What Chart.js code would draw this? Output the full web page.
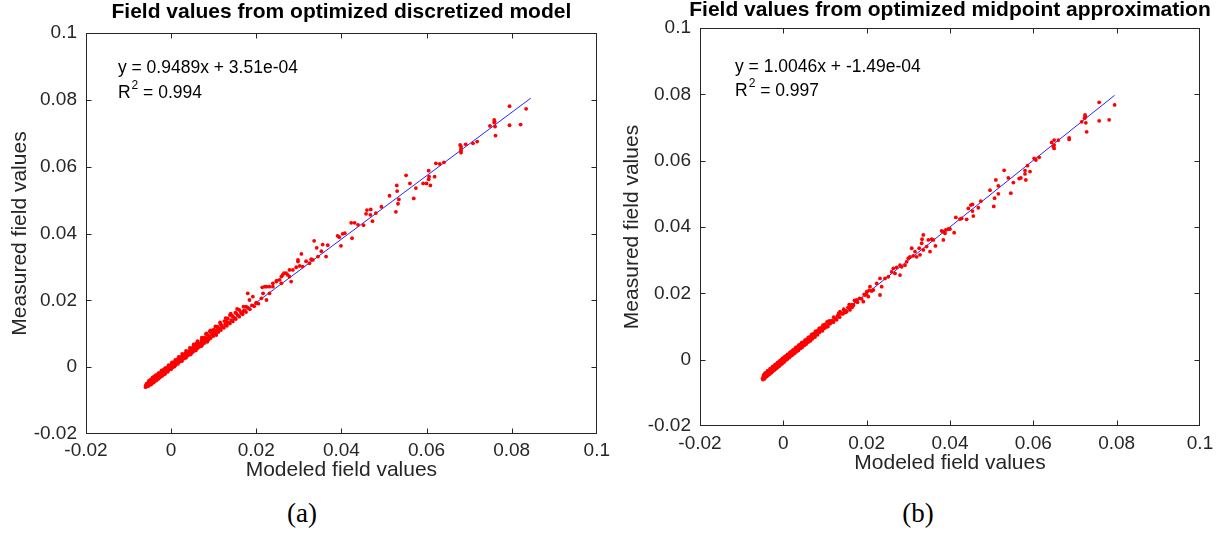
<!DOCTYPE html>
<html>
<head>
<meta charset="utf-8">
<script src="https://cdn.jsdelivr.net/npm/chart.js@4.4.1/dist/chart.umd.min.js"></script>
<style>
body { margin: 0; background: #fff; width: 1227px; height: 535px; position: relative; overflow: hidden; }
#chartA { position: absolute; left: 0; top: 0; }
#chartB { position: absolute; left: 615px; top: 0; }
.caption { position: absolute; top: 498px; width: 100px; text-align: center; font-family: "Liberation Serif", serif; font-size: 27px; color: #000; }
</style>
</head>
<body>
<canvas id="chartA" width="615" height="490"></canvas>
<canvas id="chartB" width="612" height="490"></canvas>
<div class="caption" style="left:252px">(a)</div>
<div class="caption" style="left:868px">(b)</div>
<script>
// axis ticks (same on both axes of both plots)
var tickValues = [-0.02, 0, 0.02, 0.04, 0.06, 0.08, 0.1];
var tickLabels = ['-0.02', '0', '0.02', '0.04', '0.06', '0.08', '0.1'];

// (a) discretized model: [modeled, measured]
var pairsA = [
  [-0.0060,-0.0055],[-0.0058,-0.0050],[-0.0055,-0.0053],[-0.0053,-0.0046],[-0.0052,-0.0051],
  [-0.0050,-0.0044],[-0.0049,-0.0049],[-0.0047,-0.0041],[-0.0046,-0.0046],[-0.0045,-0.0038],
  [-0.0043,-0.0043],[-0.0042,-0.0036],[-0.0040,-0.0040],[-0.0039,-0.0033],[-0.0037,-0.0038],
  [-0.0036,-0.0030],[-0.0034,-0.0034],[-0.0033,-0.0027],[-0.0031,-0.0031],[-0.0030,-0.0025],
  [-0.0028,-0.0029],[-0.0027,-0.0022],[-0.0025,-0.0026],[-0.0024,-0.0019],[-0.0022,-0.0022],
  [-0.0021,-0.0016],[-0.0019,-0.0020],[-0.0018,-0.0013],[-0.0016,-0.0017],[-0.0015,-0.0011],
  [-0.0013,-0.0014],[-0.0012,-0.0008],[-0.0010,-0.0011],[-0.0009,-0.0005],[-0.0007,-0.0008],
  [-0.0006,-0.0002],[-0.0004,-0.0005],[-0.0003,0.0001],[-0.0001,-0.0002],[0.0000,0.0004],
  [0.0002,0.0001],[0.0003,0.0007],[0.0005,0.0004],[0.0007,0.0010],[0.0008,0.0006],
  [0.0010,0.0013],[0.0012,0.0010],[0.0013,0.0016],[0.0015,0.0013],[0.0017,0.0019],
  [0.0019,0.0016],[0.0020,0.0023],[0.0022,0.0019],[0.0024,0.0027],[0.0026,0.0022],
  [0.0028,0.0030],[0.0030,0.0026],[0.0032,0.0034],[0.0034,0.0030],[0.0036,0.0038],
  [0.0038,0.0034],[0.0040,0.0042],[0.0042,0.0037],[0.0044,0.0046],[0.0046,0.0041],
  [0.0048,0.0050],[0.0050,0.0045],[0.0052,0.0054],[0.0054,0.0049],[0.0056,0.0058],
  [0.0058,0.0053],[0.0061,0.0062],[0.0063,0.0057],[0.0065,0.0067],[0.0068,0.0062],
  [0.0070,0.0071],[0.0073,0.0066],[0.0075,0.0076],[0.0078,0.0072],[0.0080,0.0082],
  [0.0083,0.0077],[0.0085,0.0087],[0.0088,0.0082],[0.0090,0.0092],[0.0093,0.0087],
  [0.0096,0.0098],[0.0099,0.0093],[0.0102,0.0104],[0.0105,0.0099],[0.0108,0.0110],
  [0.0111,0.0105],[0.0114,0.0116],[0.0117,0.0111],[0.0120,0.0121],[0.0124,0.0118],
  [0.0127,0.0128],[0.0131,0.0124],[0.0134,0.0134],[0.0138,0.0131],[0.0141,0.0141],
  [0.0145,0.0137],[0.0148,0.0148],[0.0152,0.0144],[0.0156,0.0156],[0.0160,0.0151],
  [0.0164,0.0163],[0.0168,0.0158],[0.0172,0.0170],[0.0176,0.0165],[0.0180,0.0178],
  [0.0185,0.0173],[0.0190,0.0185],[0.0195,0.0182],[0.0200,0.0193],[0.0205,0.0190],
  [-0.0055,-0.0047],[-0.0048,-0.0037],[-0.0041,-0.0029],[-0.0035,-0.0024],[-0.0029,-0.0018],
  [-0.0023,-0.0012],[-0.0017,-0.0007],[-0.0011,-0.0002],[-0.0005,0.0004],[0.0001,0.0010],
  [0.0006,0.0015],[0.0011,0.0020],[0.0016,0.0025],[0.0021,0.0030],[0.0027,0.0036],
  [0.0033,0.0041],[0.0039,0.0047],[0.0045,0.0053],[0.0051,0.0059],[0.0057,0.0065],
  [0.0064,0.0072],[0.0071,0.0080],[0.0079,0.0089],[0.0086,0.0096],[0.0094,0.0105],
  [0.0101,0.0112],[0.0109,0.0121],[0.0116,0.0129],[0.0125,0.0138],[0.0133,0.0146],
  [0.0143,0.0154],[0.0151,0.0163],[0.0160,0.0171],[0.0170,0.0181],
  [-0.0052,-0.0040],[-0.0044,-0.0031],[-0.0037,-0.0025],[-0.0030,-0.0019],[-0.0022,-0.0010],
  [-0.0014,-0.0003],[-0.0006,0.0006],[0.0002,0.0014],[0.0010,0.0022],[0.0018,0.0031],
  [0.0026,0.0040],[0.0035,0.0049],[0.0044,0.0058],[0.0053,0.0068],[0.0062,0.0078],
  [0.0072,0.0088],[0.0082,0.0099],[0.0092,0.0110],[0.0104,0.0122],[0.0115,0.0134],
  [0.0128,0.0147],[0.0140,0.0160],[0.0155,0.0174],
  [-0.0057,-0.0057],[-0.0050,-0.0052],[-0.0044,-0.0047],[-0.0038,-0.0041],[-0.0032,-0.0036],
  [-0.0026,-0.0030],[-0.0020,-0.0024],[-0.0014,-0.0018],[-0.0008,-0.0012],[-0.0002,-0.0006],
  [0.0004,0.0000],[0.0010,0.0006],
  [-0.0060,-0.0060],[-0.0054,-0.0057],[-0.0047,-0.0052],[-0.0041,-0.0046],[-0.0035,-0.0040],
  [-0.0029,-0.0034],[-0.0022,-0.0027],[-0.0015,-0.0021],[-0.0008,-0.0014],[0.0000,-0.0006],
  [0.0008,0.0002],[0.0016,0.0010],[0.0025,0.0018],[0.0035,0.0028],[0.0046,0.0038],
  [0.0058,0.0050],[0.0071,0.0063],[0.0085,0.0076],
  [0.0298,0.0316],[0.0278,0.0271],[0.0270,0.0281],[0.0262,0.0276],[0.0282,0.0256],
  [0.0259,0.0251],[0.0247,0.0256],[0.0239,0.0241],[0.0231,0.0221],[0.0220,0.0241],
  [0.0216,0.0221],[0.0224,0.0201],[0.0212,0.0206],[0.0200,0.0191],[0.0192,0.0211],
  [0.0184,0.0201],[0.0180,0.0221],[0.0176,0.0181],[0.0169,0.0167],[0.0153,0.0161],
  [0.0145,0.0151],[0.0138,0.0156],[0.0130,0.0136],[0.0118,0.0126],[0.0110,0.0116],
  [0.0098,0.0111],[0.0091,0.0106],[0.0083,0.0101],[0.0106,0.0096],[0.0075,0.0086],
  [0.0059,0.0071],
  [0.0403,0.0399],[0.0408,0.0401],[0.0391,0.0393],[0.0395,0.0389],[0.0399,0.0363],
  [0.0368,0.0365],[0.0356,0.0367],[0.0336,0.0378],[0.0342,0.0357],[0.0353,0.0347],
  [0.0364,0.0331],[0.0345,0.0331],[0.0333,0.0321],[0.0306,0.0339],[0.0298,0.0321],
  [0.0317,0.0317],[0.0329,0.0323],[0.0325,0.0311],[0.0309,0.0301],[0.0302,0.0303],
  [0.0294,0.0299],[0.0286,0.0291],[0.0278,0.0291],[0.0274,0.0276],[0.0265,0.0281],
  [0.0259,0.0271],[0.0255,0.0261],[0.0248,0.0259],[0.0239,0.0251],[0.0231,0.0241],
  [0.0224,0.0241],[0.0214,0.0239],
  [0.0795,0.0781],[0.0834,0.0773],[0.0821,0.0726],[0.0795,0.0724],[0.0759,0.0740],
  [0.0760,0.0735],[0.0759,0.0732],[0.0749,0.0722],[0.0761,0.0720],[0.0762,0.0693],
  [0.0679,0.0665],[0.0681,0.0660],[0.0681,0.0653],[0.0681,0.0648],[0.0681,0.0642],
  [0.0692,0.0667],[0.0709,0.0670],[0.0719,0.0675],[0.0622,0.0610],[0.0631,0.0608],
  [0.0641,0.0613],[0.0605,0.0588],[0.0606,0.0570],[0.0605,0.0562],[0.0609,0.0544],
  [0.0600,0.0550],[0.0592,0.0550],[0.0619,0.0570],[0.0552,0.0574],[0.0561,0.0550],
  [0.0575,0.0536],[0.0570,0.0505],[0.0530,0.0544],[0.0531,0.0527],[0.0535,0.0502],
  [0.0533,0.0489],[0.0528,0.0465],[0.0513,0.0513],[0.0494,0.0480],[0.0481,0.0461],
  [0.0469,0.0472],[0.0460,0.0470],[0.0458,0.0459],[0.0468,0.0456],[0.0473,0.0437],
  [0.0452,0.0425],[0.0439,0.0426],[0.0431,0.0432],[0.0423,0.0432],[0.0425,0.0386]
];

// (b) midpoint approximation: [modeled, measured]
var pairsB = [
  [-0.0050,-0.0057],[-0.0048,-0.0051],[-0.0046,-0.0054],[-0.0045,-0.0047],[-0.0043,-0.0050],
  [-0.0041,-0.0043],[-0.0040,-0.0046],[-0.0038,-0.0040],[-0.0036,-0.0042],[-0.0035,-0.0036],
  [-0.0033,-0.0038],[-0.0031,-0.0032],[-0.0030,-0.0034],[-0.0028,-0.0028],[-0.0026,-0.0030],
  [-0.0025,-0.0024],[-0.0023,-0.0026],[-0.0021,-0.0020],[-0.0020,-0.0023],[-0.0018,-0.0017],
  [-0.0016,-0.0019],[-0.0015,-0.0013],[-0.0013,-0.0016],[-0.0011,-0.0010],[-0.0010,-0.0012],
  [-0.0008,-0.0007],[-0.0006,-0.0009],[-0.0005,-0.0003],[-0.0003,-0.0006],[-0.0001,0.0000],
  [0.0000,-0.0003],[0.0002,0.0003],[0.0004,0.0001],[0.0005,0.0006],[0.0007,0.0004],
  [0.0009,0.0010],[0.0011,0.0007],[0.0013,0.0014],[0.0015,0.0011],[0.0017,0.0018],
  [0.0019,0.0015],[0.0021,0.0022],[0.0023,0.0019],[0.0025,0.0026],[0.0027,0.0023],
  [0.0029,0.0030],[0.0031,0.0027],[0.0033,0.0034],[0.0035,0.0031],[0.0037,0.0038],
  [0.0040,0.0036],[0.0042,0.0043],[0.0044,0.0040],[0.0047,0.0048],[0.0049,0.0045],
  [0.0052,0.0053],[0.0054,0.0050],[0.0057,0.0058],[0.0059,0.0055],[0.0062,0.0063],
  [0.0064,0.0060],[0.0067,0.0068],[0.0069,0.0065],[0.0072,0.0074],[0.0075,0.0071],
  [0.0078,0.0080],[0.0081,0.0077],[0.0084,0.0086],[0.0087,0.0083],[0.0090,0.0092],
  [0.0093,0.0089],[0.0096,0.0098],[0.0099,0.0095],[0.0102,0.0104],[0.0105,0.0101],
  [0.0109,0.0111],[0.0112,0.0108],[0.0116,0.0118],[0.0119,0.0115],[0.0123,0.0125],
  [0.0126,0.0122],[0.0130,0.0132],[0.0134,0.0130],[0.0138,0.0140],[0.0142,0.0138],
  [0.0146,0.0148],[0.0150,0.0146],[0.0155,0.0157],[0.0159,0.0155],[0.0164,0.0166],
  [0.0168,0.0164],[0.0173,0.0176],[0.0178,0.0173],[0.0183,0.0185],[0.0188,0.0183],
  [0.0194,0.0197],[0.0200,0.0196],[0.0206,0.0209],[0.0212,0.0207],
  [-0.0047,-0.0046],[-0.0041,-0.0039],[-0.0035,-0.0033],[-0.0029,-0.0026],[-0.0023,-0.0020],
  [-0.0017,-0.0014],[-0.0011,-0.0007],[-0.0005,-0.0001],[0.0001,0.0005],[0.0007,0.0011],
  [0.0013,0.0017],[0.0019,0.0024],[0.0026,0.0031],[0.0033,0.0038],[0.0040,0.0045],
  [0.0048,0.0053],[0.0056,0.0061],[0.0064,0.0069],[0.0072,0.0078],[0.0081,0.0087],
  [0.0090,0.0096],[0.0100,0.0106],[0.0110,0.0117],[0.0121,0.0128],[0.0133,0.0140],
  [0.0145,0.0152],[0.0158,0.0166],[0.0171,0.0179],
  [-0.0044,-0.0041],[-0.0038,-0.0034],[-0.0032,-0.0028],[-0.0026,-0.0021],[-0.0020,-0.0015],
  [-0.0014,-0.0009],[-0.0008,-0.0003],[-0.0002,0.0004],[0.0004,0.0010],[0.0010,0.0016],
  [0.0016,0.0022],[0.0023,0.0029],[0.0030,0.0037],[0.0037,0.0044],[0.0044,0.0051],
  [0.0052,0.0059],[0.0060,0.0067],[0.0068,0.0076],[0.0077,0.0085],[0.0086,0.0094],
  [0.0095,0.0104],[0.0105,0.0114],
  [-0.0049,-0.0060],[-0.0044,-0.0055],[-0.0038,-0.0048],[-0.0032,-0.0042],[-0.0026,-0.0035],
  [-0.0020,-0.0029],[-0.0014,-0.0023],[-0.0008,-0.0016],[-0.0002,-0.0010],[0.0004,-0.0003],
  [0.0010,0.0003],[0.0017,0.0010],[0.0024,0.0017],[0.0032,0.0025],[0.0041,0.0034],
  [0.0050,0.0043],[0.0060,0.0053],[0.0070,0.0063],[0.0082,0.0075],[0.0094,0.0087],
  [0.0107,0.0100],[0.0120,0.0113],[0.0135,0.0128],[0.0150,0.0143],[0.0165,0.0158],
  [-0.0046,-0.0058],[-0.0040,-0.0051],[-0.0034,-0.0045],[-0.0028,-0.0039],[-0.0022,-0.0032],
  [-0.0016,-0.0026],[-0.0010,-0.0020],[-0.0004,-0.0013],[0.0002,-0.0007],[0.0008,0.0000],
  [0.0014,0.0006],[0.0021,0.0013],[0.0028,0.0020],[0.0036,0.0028],[0.0045,0.0037],
  [0.0055,0.0047],[0.0065,0.0057],[0.0076,0.0068],
  [0.0236,0.0220],[0.0232,0.0195],[0.0224,0.0230],[0.0216,0.0210],[0.0208,0.0220],
  [0.0200,0.0205],[0.0196,0.0195],[0.0204,0.0190],[0.0192,0.0175],[0.0176,0.0180],
  [0.0168,0.0165],[0.0160,0.0150],[0.0152,0.0145],[0.0144,0.0140],[0.0136,0.0145],
  [0.0128,0.0120],[0.0120,0.0115],[0.0112,0.0110],[0.0104,0.0099],
  [0.0396,0.0394],[0.0390,0.0391],[0.0384,0.0386],[0.0388,0.0381],[0.0384,0.0361],
  [0.0380,0.0388],[0.0336,0.0376],[0.0333,0.0363],[0.0356,0.0363],[0.0348,0.0361],
  [0.0360,0.0361],[0.0344,0.0341],[0.0365,0.0343],[0.0352,0.0326],[0.0308,0.0336],
  [0.0316,0.0326],[0.0326,0.0336],[0.0332,0.0351],[0.0336,0.0331],[0.0328,0.0316],
  [0.0320,0.0310],[0.0312,0.0313],[0.0304,0.0310],[0.0296,0.0295],[0.0300,0.0306],
  [0.0292,0.0285],[0.0284,0.0280],[0.0280,0.0285],[0.0272,0.0278],[0.0264,0.0275],
  [0.0260,0.0265],[0.0268,0.0260],[0.0280,0.0255],[0.0252,0.0250],[0.0244,0.0245],
  [0.0232,0.0245],
  [0.0758,0.0776],[0.0795,0.0768],[0.0782,0.0723],[0.0758,0.0720],[0.0724,0.0738],
  [0.0725,0.0733],[0.0723,0.0728],[0.0716,0.0717],[0.0726,0.0714],[0.0728,0.0687],
  [0.0644,0.0655],[0.0650,0.0662],[0.0650,0.0647],[0.0650,0.0637],[0.0648,0.0642],
  [0.0660,0.0662],[0.0686,0.0669],[0.0686,0.0664],[0.0602,0.0607],[0.0606,0.0602],
  [0.0614,0.0610],[0.0586,0.0585],[0.0580,0.0570],[0.0580,0.0560],[0.0592,0.0567],
  [0.0582,0.0542],[0.0570,0.0548],[0.0566,0.0546],[0.0552,0.0534],[0.0540,0.0548],
  [0.0530,0.0571],[0.0516,0.0524],[0.0510,0.0542],[0.0507,0.0487],[0.0516,0.0500],
  [0.0546,0.0502],[0.0496,0.0511],[0.0474,0.0478],[0.0468,0.0458],[0.0454,0.0468],
  [0.0450,0.0466],[0.0444,0.0456],[0.0454,0.0448],[0.0456,0.0433],[0.0440,0.0423],
  [0.0428,0.0426],[0.0414,0.0429],[0.0424,0.0424],[0.0400,0.0394],[0.0410,0.0383],
  [0.0505,0.0462]
];

// least squares lines, end points over the data range
var fitXA = [-0.0062, 0.0845];
var fitYA = [-0.0055, 0.0805];
var fitXB = [-0.0050, 0.0795];
var fitYB = [-0.0052, 0.0797];

var textColor = '#262626';
var sansFont = '"Liberation Sans", Arial, Helvetica, sans-serif';

// MATLAB style box with inward ticks on all four sides
var boxPlugin = {
    id: 'matlabBox',
    afterDatasetsDraw: function(chart) {
        var ctx = chart.ctx;
        var area = chart.chartArea;
        var xs = chart.scales.x;
        var ys = chart.scales.y;
        var L = Math.round(area.left) + 0.5;
        var R = Math.round(area.right) - 0.5;
        var T = Math.round(area.top) + 0.5;
        var B = Math.round(area.bottom) - 0.5;
        ctx.save();
        ctx.strokeStyle = textColor;
        ctx.lineWidth = 1;
        ctx.strokeRect(L, T, R - L, B - T);
        ctx.beginPath();
        tickValues.forEach(function(v) {
            var px = Math.round(xs.getPixelForValue(v)) + 0.5;
            if (px > L + 2 && px < R - 2) {
                ctx.moveTo(px, B); ctx.lineTo(px, B - 5);
                ctx.moveTo(px, T); ctx.lineTo(px, T + 5);
            }
            var py = Math.round(ys.getPixelForValue(v)) + 0.5;
            if (py > T + 2 && py < B - 2) {
                ctx.moveTo(L, py); ctx.lineTo(L + 5, py);
                ctx.moveTo(R, py); ctx.lineTo(R - 5, py);
            }
        });
        ctx.stroke();
        ctx.restore();
    }
};

// title above the box and the fit equation inside it
var textPlugin = {
    id: 'fitText',
    afterDraw: function(chart, args, opts) {
        var ctx = chart.ctx;
        var area = chart.chartArea;
        var xs = chart.scales.x;
        var ys = chart.scales.y;
        ctx.save();
        ctx.fillStyle = '#000';
        ctx.textBaseline = 'middle';
        ctx.textAlign = 'center';
        ctx.font = 'bold 21px ' + sansFont;
        ctx.fillText(opts.title, (area.left + area.right) / 2, opts.titleY);

        ctx.textAlign = 'left';
        ctx.font = '17.5px ' + sansFont;
        var tx = xs.getPixelForValue(opts.at[0]);
        var ty1 = ys.getPixelForValue(opts.at[1]);
        var ty2 = ys.getPixelForValue(opts.at[2]);
        ctx.fillText(opts.equation, tx, ty1);
        ctx.fillText('R', tx, ty2);
        var w = ctx.measureText('R').width;
        ctx.font = '12px ' + sansFont;
        ctx.fillText('2', tx + w + 1, ty2 - 7);
        var w2 = ctx.measureText('2').width;
        ctx.font = '17.5px ' + sansFont;
        ctx.fillText(' = ' + opts.r2, tx + w + w2 + 1, ty2);
        ctx.restore();
    }
};

function makeChart(canvasId, pairs, fitX, fitY, setup) {
    var points = pairs.map(function(p) { return { x: p[0], y: p[1] }; });
    var line = fitX.map(function(x, i) { return { x: x, y: fitY[i] }; });

    function axis(titleText, pad, titlePad) {
        return {
            type: 'linear',
            min: -0.02,
            max: 0.1,
            afterBuildTicks: function(scale) {
                scale.ticks = tickValues.map(function(v) { return { value: v }; });
            },
            ticks: {
                autoSkip: false,
                maxRotation: 0,
                color: textColor,
                font: { family: sansFont, size: 19 },
                padding: pad,
                callback: function(value, index) { return tickLabels[index]; }
            },
            grid: { display: false, drawTicks: false },
            border: { display: false },
            title: {
                display: true,
                text: titleText,
                color: textColor,
                font: { family: sansFont, size: 21 },
                padding: titlePad
            }
        };
    }

    var xAxis = axis('Modeled field values', setup.xTickPad, setup.xTitlePad);
    xAxis.afterFit = function(scale) { scale.height = setup.xHeight; };
    var yAxis = axis('Measured field values', 9, setup.yTitlePad);
    yAxis.afterFit = function(scale) { scale.width = setup.yWidth; };

    return new Chart(document.getElementById(canvasId), {
        type: 'scatter',
        data: {
            datasets: [{
                label: 'field values',
                data: points,
                backgroundColor: '#ff0000',
                borderWidth: 0,
                pointRadius: 1.9,
                pointHoverRadius: 1.9
            }, {
                label: 'fit',
                data: line,
                showLine: true,
                borderColor: 'rgba(0, 0, 255, 0.85)',
                borderWidth: 1,
                pointRadius: 0,
                fill: false
            }]
        },
        options: {
            responsive: false,
            animation: false,
            devicePixelRatio: 1,
            layout: { padding: setup.padding },
            scales: { x: xAxis, y: yAxis },
            plugins: {
                legend: { display: false },
                tooltip: { enabled: false },
                fitText: {
                    title: setup.title,
                    titleY: setup.titleY,
                    equation: setup.equation,
                    r2: setup.r2,
                    at: setup.textAt
                }
            }
        },
        plugins: [boxPlugin, textPlugin]
    });
}

makeChart('chartA', pairsA, fitXA, fitYA, {
    title: 'Field values from optimized discretized model',
    titleY: 12,
    equation: 'y = 0.9489x + 3.51e-04',
    r2: '0.994',
    textAt: [-0.0125, 0.0895, 0.082],
    padding: { left: 0, right: 17, top: 33, bottom: 0 },
    xHeight: 56,
    yWidth: 86,
    xTickPad: 5,
    xTitlePad: { top: 0, bottom: 7 },
    yTitlePad: { top: 8, bottom: 0 }
});

makeChart('chartB', pairsB, fitXB, fitYB, {
    title: 'Field values from optimized midpoint approximation',
    titleY: 10,
    equation: 'y = 1.0046x + -1.49e-04',
    r2: '0.997',
    textAt: [-0.0116, 0.0882, 0.081],
    padding: { left: 0, right: 27, top: 28, bottom: 0 },
    xHeight: 64,
    yWidth: 85,
    xTickPad: 6,
    xTitlePad: { top: 0, bottom: 14 },
    yTitlePad: { top: 5, bottom: 0 }
});
</script>
</body>
</html>
